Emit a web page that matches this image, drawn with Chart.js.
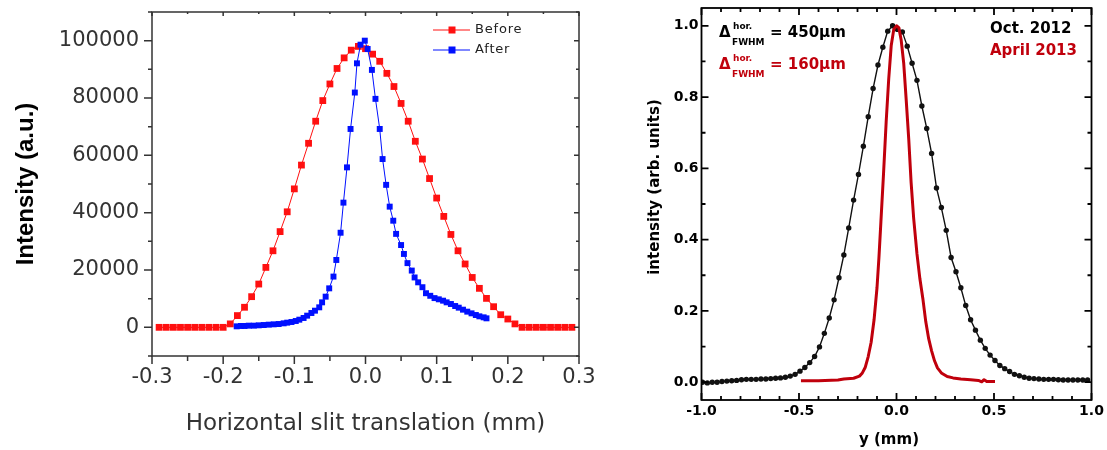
<!DOCTYPE html>
<html>
<head>
<meta charset="utf-8">
<title>Beam profile before / after</title>
<script src="https://cdn.jsdelivr.net/npm/chart.js@4.4.1/dist/chart.umd.min.js"></script>
<style>
  html, body { margin: 0; padding: 0; background: #fff; }
  #wrap { position: relative; width: 1107px; height: 450px; overflow: hidden; }
  .panel { position: absolute; top: 0; height: 450px; }
  #leftPanel { left: 0; width: 610px; }
  #rightPanel { left: 620px; width: 487px; }
</style>
</head>
<body>
<div id="wrap">
  <div class="panel" id="leftPanel"><canvas id="slitChart"></canvas></div>
  <div class="panel" id="rightPanel"><canvas id="profileChart"></canvas></div>
</div>
<script>
// ===================== DATA: LEFT PANEL (slit scan) =====================
const beforeX = [-0.29, -0.28, -0.27, -0.26, -0.25, -0.24, -0.23, -0.22, -0.21, -0.20,
  -0.19, -0.18, -0.17, -0.16, -0.15, -0.14, -0.13, -0.12, -0.11, -0.10,
  -0.09, -0.08, -0.07, -0.06, -0.05, -0.04, -0.03, -0.02, -0.01, 0.00,
  0.01, 0.02, 0.03, 0.04, 0.05, 0.06, 0.07, 0.08, 0.09, 0.10,
  0.11, 0.12, 0.13, 0.14, 0.15, 0.16, 0.17, 0.18, 0.19, 0.20,
  0.21, 0.22, 0.23, 0.24, 0.25, 0.26, 0.27, 0.28, 0.29];
const beforeY = [0, 0, 0, 0, 0, 0, 0, 0, 0, 0,
  1200, 4100, 7000, 10700, 15100, 20900, 26700, 33400, 40300, 48300,
  56600, 64200, 71900, 79100, 84900, 90300, 94000, 96700, 98000, 97200,
  95300, 92800, 88600, 84000, 78100, 71900, 64900, 58700, 51900, 45100,
  38700, 32400, 26700, 22100, 17400, 13600, 10100, 7200, 4400, 2900,
  1200, 0, 0, 0, 0, 0, 0, 0, 0];

const afterX = [-0.181, -0.175, -0.170, -0.164, -0.157, -0.150, -0.143, -0.136, -0.129, -0.122,
  -0.115, -0.110, -0.104, -0.098, -0.093, -0.087, -0.082, -0.076, -0.071, -0.065,
  -0.061, -0.056, -0.051, -0.045, -0.041, -0.035, -0.031, -0.026, -0.021, -0.015,
  -0.012, -0.007, -0.001, 0.003, 0.009, 0.014, 0.020, 0.024, 0.029, 0.034,
  0.039, 0.043, 0.050, 0.054, 0.059, 0.065, 0.069, 0.074, 0.080, 0.085,
  0.091, 0.097, 0.103, 0.109, 0.114, 0.120, 0.126, 0.131, 0.137, 0.143,
  0.149, 0.155, 0.160, 0.166, 0.170];
const afterY = [350, 470, 470, 580, 580, 700, 810, 930, 1050, 1160,
  1400, 1630, 1860, 2210, 2670, 3260, 4070, 5000, 5810, 6980,
  8720, 10700, 13600, 17700, 23500, 33000, 43500, 55800, 69200, 81900,
  92100, 98600, 100000, 97100, 89800, 79700, 69200, 58700, 49700, 42100,
  37200, 32600, 28700, 25600, 22400, 19800, 17400, 15700, 14000, 11900,
  11000, 10200, 9770, 9300, 8720, 8140, 7440, 6860, 6160, 5470,
  4880, 4300, 3840, 3490, 3140];

const leftXTicks = [-0.3, -0.2, -0.1, 0, 0.1, 0.2, 0.3];
const leftYTicks = [0, 20000, 40000, 60000, 80000, 100000];

// ===================== DATA: RIGHT PANEL (profiles) =====================
const octX = [-0.995, -0.970, -0.945, -0.920, -0.895, -0.870, -0.845, -0.820, -0.795, -0.770,
  -0.745, -0.720, -0.695, -0.670, -0.645, -0.620, -0.595, -0.570, -0.545, -0.520,
  -0.495, -0.470, -0.445, -0.420, -0.395, -0.370, -0.345, -0.320, -0.295, -0.270,
  -0.245, -0.220, -0.195, -0.170, -0.145, -0.120, -0.095, -0.070, -0.045, -0.020,
  0.005, 0.030, 0.055, 0.080, 0.105, 0.130, 0.155, 0.180, 0.205, 0.230,
  0.255, 0.280, 0.305, 0.330, 0.355, 0.380, 0.405, 0.430, 0.455, 0.480,
  0.505, 0.530, 0.555, 0.580, 0.605, 0.630, 0.655, 0.680, 0.705, 0.730,
  0.755, 0.780, 0.805, 0.830, 0.855, 0.880, 0.905, 0.930, 0.955, 0.980];
const octY = [0.000, -0.002, 0.000, 0.000, 0.002, 0.003, 0.004, 0.005, 0.007, 0.008,
  0.008, 0.008, 0.009, 0.009, 0.010, 0.011, 0.012, 0.014, 0.017, 0.022,
  0.031, 0.041, 0.055, 0.072, 0.099, 0.137, 0.180, 0.231, 0.293, 0.357,
  0.433, 0.511, 0.583, 0.662, 0.745, 0.824, 0.890, 0.940, 0.985, 1.000,
  0.990, 0.983, 0.943, 0.895, 0.847, 0.775, 0.712, 0.642, 0.545, 0.490,
  0.426, 0.350, 0.310, 0.265, 0.215, 0.175, 0.146, 0.118, 0.095, 0.076,
  0.061, 0.047, 0.038, 0.030, 0.022, 0.018, 0.014, 0.011, 0.010, 0.009,
  0.008, 0.008, 0.008, 0.007, 0.006, 0.006, 0.006, 0.006, 0.006, 0.006];

const aprX = [-0.49, -0.40, -0.30, -0.27, -0.22, -0.19, -0.175, -0.16, -0.145, -0.13,
  -0.115, -0.10, -0.09, -0.08, -0.067, -0.053, -0.04, -0.027, -0.014, 0.000,
  0.012, 0.024, 0.037, 0.05, 0.063, 0.075, 0.088, 0.105, 0.12, 0.135,
  0.15, 0.165, 0.18, 0.195, 0.21, 0.23, 0.26, 0.29, 0.33, 0.38,
  0.42, 0.437, 0.449, 0.463, 0.505];
const aprY = [0.004, 0.004, 0.006, 0.009, 0.011, 0.017, 0.026, 0.042, 0.072, 0.112,
  0.175, 0.265, 0.350, 0.450, 0.580, 0.730, 0.850, 0.945, 0.990, 1.000,
  0.995, 0.960, 0.895, 0.790, 0.680, 0.560, 0.460, 0.360, 0.290, 0.235,
  0.170, 0.122, 0.088, 0.060, 0.040, 0.026, 0.016, 0.012, 0.009, 0.007,
  0.005, 0.001, 0.007, 0.002, 0.002];

const rightXTicks = [-1, -0.5, 0, 0.5, 1];
const rightYTicks = [0, 0.2, 0.4, 0.6, 0.8, 1.0];

const campaigns = ['Oct. 2012', 'April 2013'];
const fwhmWidths = ['450', '160'];

// ===================== STYLE =====================
const RED = '#ff1010';
const BLUE = '#0010ff';
const DARK_RED = '#c0000c';
const campaignColors = ['#000000', DARK_RED];

Chart.defaults.font.family = '"DejaVu Sans", sans-serif';

const toPoints = (xs, ys) => xs.map((x, i) => ({ x: x, y: ys[i] }));

function tickValues(start, end, step) {
    const out = [];
    for (let i = 0; start + i * step <= end + step * 1e-6; i++) out.push(start + i * step);
    return out;
}

// frame box with major/minor tick marks on all four sides
function framePlugin(style) {
    return {
        id: 'frame',
        afterDatasetsDraw(chart) {
            const { ctx, chartArea: a, scales } = chart;
            ctx.save();
            ctx.strokeStyle = style.color;
            ctx.lineWidth = style.width;
            ctx.strokeRect(a.left, a.top, a.right - a.left, a.bottom - a.top);
            ctx.beginPath();
            ['top', 'bottom', 'left', 'right'].forEach(side => {
                const spec = style[side];
                const horiz = side === 'top' || side === 'bottom';
                const scale = horiz ? scales.x : scales.y;
                const edge = a[side];
                const outward = (side === 'bottom' || side === 'right') ? 1 : -1;
                const sets = horiz
                    ? [[style.xMinor, spec.minor], [style.xMajor, spec.major]]
                    : [[style.yMinor, spec.minor], [style.yMajor, spec.major]];
                sets.forEach(([vals, len]) => vals.forEach(v => {
                    const p = scale.getPixelForValue(v);
                    const d = outward * spec.dir * len;
                    if (horiz) { ctx.moveTo(p, edge); ctx.lineTo(p, edge + d); }
                    else { ctx.moveTo(edge, p); ctx.lineTo(edge + d, p); }
                }));
            });
            ctx.stroke();
            ctx.restore();
        }
    };
}

const slitLegend = {
    id: 'slitLegend',
    afterDraw(chart) {
        const { ctx, chartArea: a } = chart;
        ctx.save();
        chart.data.datasets.forEach((ds, i) => {
            const y = a.top + 18 + i * 20;
            const x0 = a.right - 146;
            ctx.strokeStyle = ds.borderColor;
            ctx.lineWidth = 1;
            ctx.beginPath();
            ctx.moveTo(x0, y);
            ctx.lineTo(x0 + 37, y);
            ctx.stroke();
            ctx.fillStyle = ds.borderColor;
            ctx.fillRect(x0 + 15.5, y - 3.5, 7, 7);
            ctx.fillStyle = '#222';
            ctx.font = '13px "DejaVu Sans"';
            ctx.letterSpacing = '0.8px';
            ctx.textBaseline = 'middle';
            ctx.fillText(ds.label, x0 + 42, y);
        });
        ctx.restore();
    }
};

const profileNotes = {
    id: 'profileNotes',
    afterDraw(chart) {
        const { ctx, chartArea: a } = chart;
        ctx.save();
        ctx.textBaseline = 'middle';
        ctx.textAlign = 'left';
        fwhmWidths.forEach((w, i) => {
            const y0 = a.top + 25 + i * 32;
            ctx.fillStyle = campaignColors[i];
            ctx.font = 'bold 15px "DejaVu Sans"';
            ctx.fillText('\u0394', a.left + 17.5, y0);
            ctx.fillText('= ' + w + '\u03bcm', a.left + 68.5, y0);
            ctx.font = 'bold 9px "DejaVu Sans"';
            ctx.fillText('hor.', a.left + 31.5, y0 - 6);
            ctx.fillText('FWHM', a.left + 30.5, y0 + 10);
        });
        ctx.font = 'bold 15px "DejaVu Sans"';
        campaigns.forEach((c, i) => {
            ctx.fillStyle = campaignColors[i];
            ctx.fillText(c, a.right - 101.5, a.top + 21 + i * 22);
        });
        // axis titles
        ctx.fillStyle = '#000';
        ctx.textAlign = 'center';
        ctx.fillText('y (mm)', a.left + 187.5, a.bottom + 40);
        ctx.translate(a.left - 46, a.top + 179);
        ctx.rotate(-Math.PI / 2);
        ctx.fillText('intensity (arb. units)', 0, 0);
        ctx.restore();
    }
};

const baseOptions = {
    responsive: true,
    maintainAspectRatio: false,
    animation: false,
    events: [],
    plugins: { legend: { display: false }, tooltip: { enabled: false } }
};

// ===================== LEFT CHART =====================
new Chart(document.getElementById('slitChart'), {
    type: 'scatter',
    data: {
        datasets: [
            {
                label: 'Before', data: toPoints(beforeX, beforeY), showLine: true,
                borderColor: RED, borderWidth: 1, pointStyle: 'rect', pointRadius: 4.8,
                pointBackgroundColor: RED, pointBorderWidth: 0, order: 2
            },
            {
                label: 'After', data: toPoints(afterX, afterY), showLine: true,
                borderColor: BLUE, borderWidth: 1, pointStyle: 'rect', pointRadius: 4.2,
                pointBackgroundColor: BLUE, pointBorderWidth: 0, order: 1
            }
        ]
    },
    options: {
        ...baseOptions,
        layout: { padding: { left: 0, top: 12, right: 31, bottom: 0 } },
        scales: {
            x: {
                type: 'linear', min: -0.3, max: 0.3,
                afterBuildTicks: s => { s.ticks = leftXTicks.map(v => ({ value: v })); },
                afterFit: s => { s.height = 94; s.paddingLeft = 0; s.paddingRight = 0; },
                grid: { display: false, drawTicks: false },
                border: { display: false },
                ticks: {
                    padding: 9, autoSkip: false, maxRotation: 0, color: '#333',
                    font: { size: 21 }, callback: v => v.toFixed(1)
                },
                title: {
                    display: true, text: 'Horizontal slit translation (mm)', color: '#333',
                    font: { size: 23 }, padding: { top: 0, bottom: 12 }
                }
            },
            y: {
                type: 'linear', min: -10000, max: 110000,
                afterBuildTicks: s => { s.ticks = leftYTicks.map(v => ({ value: v })); },
                afterFit: s => { s.width = 152; s.paddingTop = 0; s.paddingBottom = 0; },
                grid: { display: false, drawTicks: false },
                border: { display: false },
                ticks: { padding: 13, autoSkip: false, color: '#333', font: { size: 21 }, callback: v => String(v) },
                title: {
                    display: true, text: 'Intensity (a.u.)', color: '#000',
                    font: { family: '"Liberation Sans", Arial, sans-serif', size: 24, weight: 'bold' },
                    padding: { top: 12, bottom: 0 }
                }
            }
        }
    },
    plugins: [
        framePlugin({
            color: '#333', width: 1.5,
            xMajor: leftXTicks, xMinor: tickValues(-0.3, 0.3, 0.05),
            yMajor: leftYTicks, yMinor: tickValues(-10000, 110000, 10000),
            top: { dir: -1, major: 4, minor: 2 },
            bottom: { dir: 1, major: 8, minor: 5 },
            left: { dir: 1, major: 8, minor: 4 },
            right: { dir: -1, major: 5, minor: 3 }
        }),
        slitLegend
    ]
});

// ===================== RIGHT CHART =====================
new Chart(document.getElementById('profileChart'), {
    type: 'scatter',
    data: {
        datasets: [
            {
                label: campaigns[0], data: toPoints(octX, octY), showLine: true,
                borderColor: '#111', borderWidth: 1.4, pointRadius: 2.7,
                pointBackgroundColor: '#111', pointBorderWidth: 0, order: 2
            },
            {
                label: campaigns[1], data: toPoints(aprX, aprY), showLine: true,
                borderColor: DARK_RED, borderWidth: 3, pointRadius: 0,
                borderJoinStyle: 'round', order: 1
            }
        ]
    },
    options: {
        ...baseOptions,
        layout: { padding: { left: 0, top: 8, right: 15.5, bottom: 0 } },
        scales: {
            x: {
                type: 'linear', min: -1, max: 1,
                afterBuildTicks: s => { s.ticks = rightXTicks.map(v => ({ value: v })); },
                afterFit: s => { s.height = 50; s.paddingLeft = 0; s.paddingRight = 0; },
                grid: { display: false, drawTicks: false },
                border: { display: false },
                ticks: {
                    padding: 3, autoSkip: false, maxRotation: 0, color: '#000',
                    font: { size: 14, weight: 'bold' }, callback: v => v.toFixed(1)
                }
            },
            y: {
                type: 'linear', min: -0.05, max: 1.05,
                afterBuildTicks: s => { s.ticks = rightYTicks.map(v => ({ value: v })); },
                afterFit: s => { s.width = 81.5; s.paddingTop = 0; s.paddingBottom = 0; },
                grid: { display: false, drawTicks: false },
                border: { display: false },
                ticks: {
                    padding: 3, autoSkip: false, color: '#000',
                    font: { size: 14, weight: 'bold' }, callback: v => v.toFixed(1)
                }
            }
        }
    },
    plugins: [
        framePlugin({
            color: '#000', width: 1.8,
            xMajor: rightXTicks, xMinor: tickValues(-1, 1, 0.1),
            yMajor: rightYTicks, yMinor: tickValues(0, 1, 0.1),
            top: { dir: -1, major: 7, minor: 4 },
            bottom: { dir: -1, major: 7, minor: 4 },
            left: { dir: -1, major: 7, minor: 4 },
            right: { dir: -1, major: 7, minor: 4 }
        }),
        profileNotes
    ]
});
</script>
</body>
</html>
